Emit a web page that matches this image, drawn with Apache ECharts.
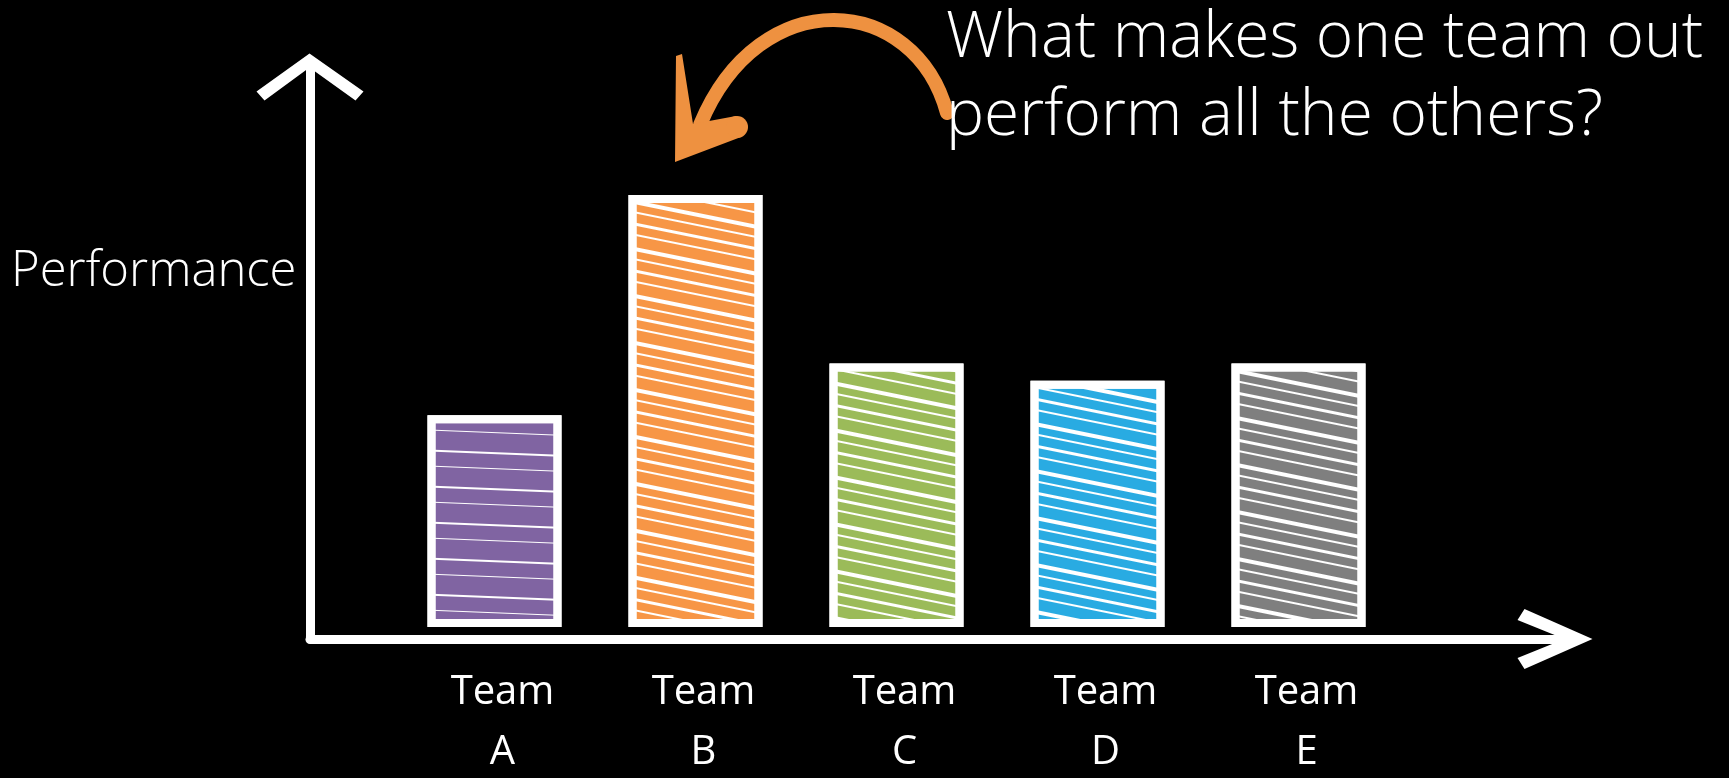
<!DOCTYPE html>
<html>
<head>
<meta charset="utf-8">
<title>Team performance</title>
<script src="https://cdn.jsdelivr.net/npm/echarts@6/dist/echarts.min.js"></script>
<style>
  html, body { margin: 0; padding: 0; background: #000; }
  #chart { width: 1729px; height: 778px; }
</style>
</head>
<body>
<div id="chart"></div>
<script>
// data (B is the tallest, scaled to 100)
var teams = ['Team A', 'Team B', 'Team C', 'Team D', 'Team E'];
var performance = [49, 100, 61, 57, 61];
var teamColors = ['#8064A2', '#F79646', '#9BBB59', '#29ABE2', '#7F7F7F'];
var titleText = 'What makes one team out\nperform all the others?';
var yAxisTitle = 'Performance';

var font = '"Open Sans", "Noto Sans", sans-serif';

// chalk style chevrons (point up, echarts turns them along the axis)
var arrowY = 'path://M0,38 L53,0 L107,38 L99,47 L53,14 L8,47 Z';
var arrowX = 'path://M0,68 L30,0 L60,68 L49,75 L30,28 L11,75 Z';

// scribble look: thin white gaps over the team colour
function scribble(i) {
  var dense = i === 0;
  return {
    color: '#fff',
    symbol: 'rect',
    symbolSize: 1,
    dashArrayX: [1, 0],
    dashArrayY: dense ? [1.5, 14, 1, 19] : [3, 8, 2, 11, 3.5, 7, 2, 9],
    rotation: dense ? 0.04 : 0.2
  };
}

var barData = performance.map(function (v, i) {
  return {
    value: v,
    itemStyle: { color: teamColors[i], decal: scribble(i) }
  };
});

var chart = echarts.init(document.getElementById('chart'));

chart.setOption({
  backgroundColor: '#000',
  animation: false,
  title: [
    {
      text: titleText,
      left: 946,
      top: 0,
      padding: 0,
      textStyle: { color: '#fff', fontFamily: font, fontWeight: 300, fontSize: 64, lineHeight: 78 }
    },
    {
      text: yAxisTitle,
      left: 11,
      top: 248,
      padding: 0,
      textStyle: { color: '#fff', fontFamily: font, fontWeight: 300, fontSize: 49 }
    }
  ],
  grid: [
    // bars
    { left: 394, right: 330, top: 195, bottom: 151, outerBoundsMode: 'none' },
    // the hand drawn axes
    { left: 310, right: 165, top: 68, bottom: 139, outerBoundsMode: 'none' }
  ],
  xAxis: [
    {
      gridIndex: 0,
      type: 'category',
      data: teams,
      axisLine: { show: false },
      axisTick: { show: false },
      axisLabel: {
        color: '#fff',
        fontFamily: font,
        fontSize: 40,
        lineHeight: 60,
        margin: 36,
        padding: [0, 0, 0, 16],
        formatter: function (s) { return s.replace(' ', '\n'); }
      }
    },
    {
      gridIndex: 1,
      type: 'value',
      min: 0,
      max: 1,
      axisLine: {
        show: true,
        symbol: ['none', arrowX],
        symbolSize: [60, 75],
        symbolOffset: [0, -9],
        lineStyle: { color: '#fff', width: 9, cap: 'round' }
      },
      axisTick: { show: false },
      axisLabel: { show: false },
      splitLine: { show: false }
    }
  ],
  yAxis: [
    {
      gridIndex: 0,
      type: 'value',
      min: 0,
      max: 100,
      show: false,
      splitLine: { show: false }
    },
    {
      gridIndex: 1,
      type: 'value',
      min: 0,
      max: 1,
      axisLine: {
        show: true,
        symbol: ['none', arrowY],
        symbolSize: [107, 47],
        symbolOffset: [0, -9],
        lineStyle: { color: '#fff', width: 9, cap: 'round' }
      },
      axisTick: { show: false },
      axisLabel: { show: false },
      splitLine: { show: false }
    }
  ],
  series: [
    {
      // dark outer frame behind each bar
      type: 'bar',
      xAxisIndex: 0,
      yAxisIndex: 0,
      data: performance,
      barWidth: 134,
      silent: true,
      z: 1,
      itemStyle: {
        color: '#fff',
        borderColor: '#2b2b2b',
        borderWidth: 17
      }
    },
    {
      type: 'bar',
      xAxisIndex: 0,
      yAxisIndex: 0,
      data: barData,
      barWidth: 134,
      barGap: '-100%',
      z: 2,
      itemStyle: {
        borderColor: '#fff',
        borderWidth: 8
      }
    }
  ],
  graphic: [
    // the orange arrow pointing at team B
    {
      type: 'bezierCurve',
      shape: { x1: 947, y1: 113, cpx1: 915, cpy1: -6, cpx2: 760, cpy2: -20, x2: 700, y2: 125 },
      style: { stroke: '#EE9140', lineWidth: 14, fill: null, lineCap: 'round' }
    },
    {
      type: 'polygon',
      shape: { points: [[675, 162], [676, 56], [682, 54], [693, 124], [736, 116], [745, 124], [741, 137]] },
      style: { fill: '#EE9140' }
    },
    {
      type: 'circle',
      shape: { cx: 737, cy: 127, r: 11 },
      style: { fill: '#EE9140' }
    }
  ]
});
</script>
</body>
</html>
